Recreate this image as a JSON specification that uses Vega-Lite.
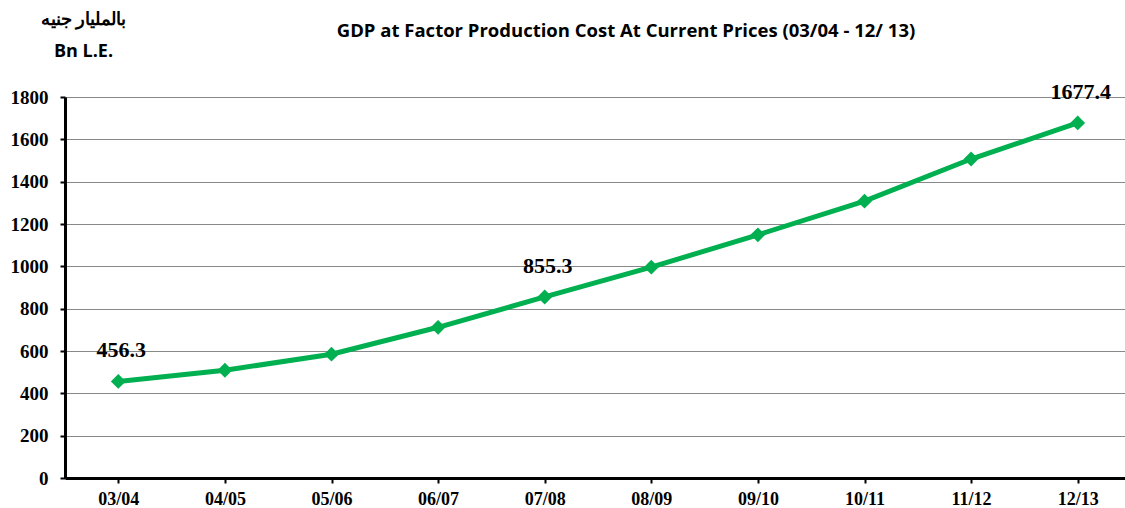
{
  "$schema": "https://vega.github.io/schema/vega-lite/v6.json",
  "width": 1066,
  "height": 381,
  "autosize": {"type": "none"},
  "padding": {"left": 65, "top": 97, "right": 0, "bottom": 30},
  "background": "white",
  "title": {
    "text": "GDP at Factor Production Cost At Current Prices (03/04 - 12/ 13)",
    "font": "Open Sans",
    "fontSize": 18.5,
    "fontWeight": "bold",
    "color": "black",
    "anchor": "middle",
    "dx": 28,
    "offset": -30
  },
  "data": {
    "values": [
      {"year": "03/04", "gdp": 456.3, "label": "456.3"},
      {"year": "04/05", "gdp": 509, "label": ""},
      {"year": "05/06", "gdp": 585, "label": ""},
      {"year": "06/07", "gdp": 712, "label": ""},
      {"year": "07/08", "gdp": 855.3, "label": "855.3"},
      {"year": "08/09", "gdp": 996, "label": ""},
      {"year": "09/10", "gdp": 1149, "label": ""},
      {"year": "10/11", "gdp": 1308, "label": ""},
      {"year": "11/12", "gdp": 1507, "label": ""},
      {"year": "12/13", "gdp": 1677.4, "label": "1677.4"}
    ]
  },
  "encoding": {
    "x": {
      "field": "year",
      "type": "ordinal",
      "sort": null,
      "scale": {"paddingInner": 0, "paddingOuter": 0},
      "axis": {
        "title": null,
        "labelAngle": 0,
        "labelFont": "Liberation Serif",
        "labelFontSize": 18,
        "labelFontWeight": "bold",
        "labelColor": "black",
        "labelPadding": 7,
        "domainColor": "black",
        "domainWidth": 3,
        "bandPosition": 0,
        "tickColor": "black",
        "tickWidth": 2,
        "tickSize": 5,
        "grid": false
      }
    },
    "y": {
      "field": "gdp",
      "type": "quantitative",
      "scale": {"domain": [0, 1800], "nice": false},
      "axis": {
        "values": [0, 200, 400, 600, 800, 1000, 1200, 1400, 1600, 1800],
        "format": "d",
        "title": ["بالمليار جنيه", "Bn L.E."],
        "titleFont": "Open Sans",
        "titleFontSize": 18,
        "titleFontWeight": "bold",
        "titleColor": "black",
        "titleAngle": 0,
        "titleAlign": "center",
        "titleBaseline": "top",
        "titleX": 18,
        "titleY": -87,
        "titleLineHeight": 32,
        "labelFont": "Liberation Serif",
        "labelFontSize": 19,
        "labelFontWeight": "bold",
        "labelColor": "black",
        "labelPadding": 12,
        "domainColor": "black",
        "domainWidth": 3,
        "tickColor": "black",
        "tickWidth": 2,
        "tickSize": 5,
        "grid": true,
        "gridColor": "#888888",
        "gridWidth": 1
      }
    }
  },
  "layer": [
    {
      "mark": {"type": "line", "color": "#00B050", "strokeWidth": 5, "point": {"shape": "diamond", "size": 220, "color": "#00B050", "filled": true, "opacity": 1}}
    },
    {
      "transform": [{"filter": "datum.label != ''"}],
      "mark": {"type": "text", "font": "Liberation Serif", "fontSize": 22, "fontWeight": "bold", "color": "black", "dy": -31, "dx": 3},
      "encoding": {"text": {"field": "label"}}
    }
  ],
  "config": {"view": {"stroke": null}}
}
